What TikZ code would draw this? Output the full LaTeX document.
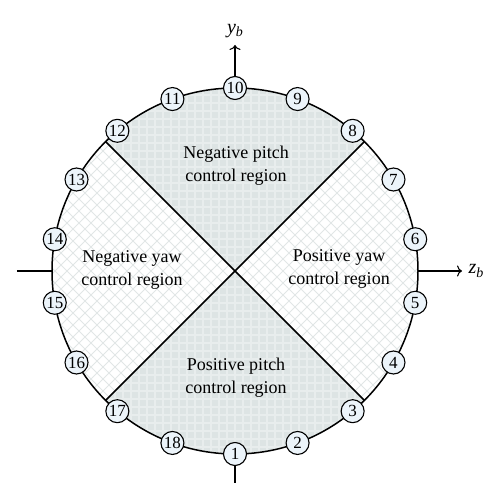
\documentclass[tikz,border=0pt]{standalone}
\usepackage{fontspec}
\setmainfont{Liberation Serif}
\usetikzlibrary{arrows.meta}
\definecolor{sectfill}{RGB}{221,228,228}
\definecolor{gridline}{RGB}{232,237,237}
\definecolor{hatch}{RGB}{225,230,230}
\definecolor{nodefill}{RGB}{236,244,250}
\tikzset{
  motor/.style={circle,draw=black,line width=1.1pt,fill=nodefill,minimum size=23pt,inner sep=0pt,font=\fontsize{17}{17}\selectfont},
  regionlabel/.style={align=center,font=\fontsize{18}{23}\selectfont},
  axislabel/.style={font=\fontsize{20}{20}\selectfont\itshape},
  axisline/.style={line width=1.1pt},
  divider/.style={line width=1.6pt},
  rim/.style={line width=1.5pt}
}
\begin{document}
\begin{tikzpicture}[x=1pt,y=1pt]
\useasboundingbox (-235,-229) rectangle (264,271);
\def\R{183}
\coordinate (C) at (0,0);
% side sectors: crosshatch
\begin{scope}
  \clip (C) -- (-45:\R) arc[start angle=-45,end angle=45,radius=\R] -- cycle
        (C) -- (135:\R) arc[start angle=135,end angle=225,radius=\R] -- cycle;
  \foreach \i in {-40,...,40}{
    \draw[hatch,line width=1pt] (\i*12-200,-200) -- (\i*12+200,200);
    \draw[hatch,line width=1pt] (\i*12+200,-200) -- (\i*12-200,200);
  }
\end{scope}
% top and bottom sectors: grid
\begin{scope}
  \clip (C) -- (45:\R) arc[start angle=45,end angle=135,radius=\R] -- cycle
        (C) -- (225:\R) arc[start angle=225,end angle=315,radius=\R] -- cycle;
  \fill[sectfill] (-200,-200) rectangle (200,200);
  \foreach \i in {-25,...,25}{
    \draw[gridline,line width=1.2pt] (\i*8,-200) -- (\i*8,200);
    \draw[gridline,line width=1.2pt] (-200,\i*8) -- (200,\i*8);
  }
\end{scope}
% rim and dividers
\draw[rim] (C) circle[radius=\R];
\coordinate (d1) at (45:\R);
\coordinate (d2) at (135:\R);
\coordinate (d3) at (225:\R);
\coordinate (d4) at (315:\R);
\draw[divider] (d1) -- (d3);
\draw[divider] (d2) -- (d4);
% motors
\foreach \k in {1,...,18}{
  \pgfmathsetmacro{\ang}{-90+20*(\k-1)}
  \node[motor] (m\k) at (\ang:\R) {\k};
}
% axes
\coordinate (ytip) at (0,226);
\coordinate (ybot) at (0,-212);
\coordinate (zleft) at (-218,0);
\coordinate (zrim) at (\R,0);
\coordinate (zlrim) at (-\R,0);
\coordinate (ztip) at (227,0);
\draw[axisline,-{To[length=5pt,width=11pt]}] (m10.north) -- (ytip);
\node[axislabel,anchor=south] (ylab) at (0,230) {y\raisebox{-0.35ex}{\fontsize{14}{14}\selectfont b}};
\draw[axisline] (m1.south) -- (ybot);
\draw[axisline] (zleft) -- (zlrim);
\draw[axisline,-{To[length=5pt,width=11pt]}] (zrim) -- (ztip);
\node[axislabel,anchor=west] (zlab) at (230,0) {z\raisebox{-0.35ex}{\fontsize{14}{14}\selectfont b}};
% labels
\node[regionlabel] (np) at (1,105) {Negative pitch\\control region};
\node[regionlabel] (pp) at (1,-107) {Positive pitch\\control region};
\node[regionlabel] (ny) at (-103,1) {Negative yaw\\control region};
\node[regionlabel] (py) at (104,2) {Positive yaw\\control region};
\end{tikzpicture}
\end{document}
